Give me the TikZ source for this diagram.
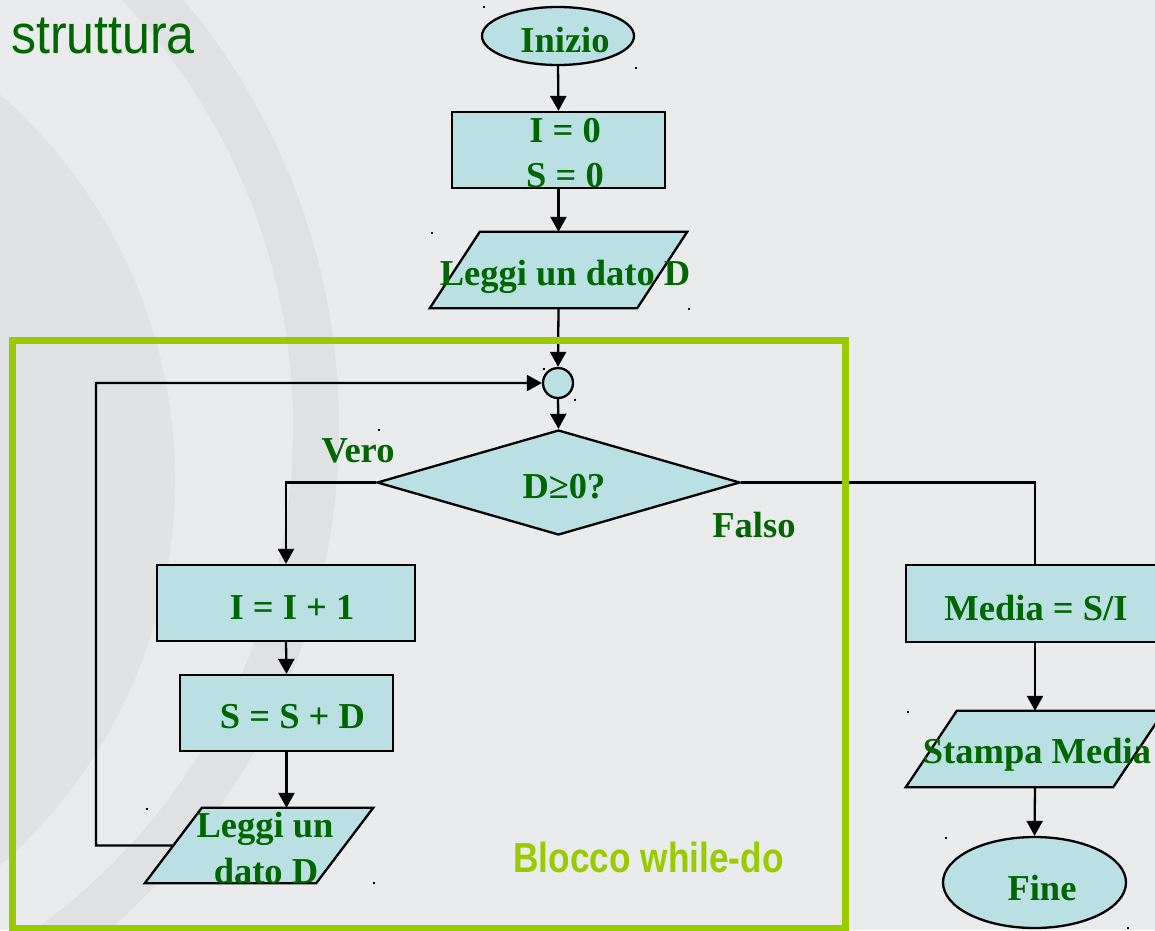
\documentclass[tikz,border=0pt]{standalone}
\usepackage{fontspec}
\usepackage{graphicx}
\setmainfont{Liberation Serif}
\newfontfamily\sansf{Liberation Sans}
\usetikzlibrary{arrows.meta,shapes.geometric,calc}
\definecolor{bgcol}{HTML}{EAEBED}
\definecolor{bandcol}{HTML}{E0E1E3}
\definecolor{disccol}{HTML}{E1E2E4}
\definecolor{boxfill}{HTML}{BAE0E3}
\definecolor{txtgreen}{HTML}{006600}
\definecolor{framegreen}{HTML}{99CC00}
\begin{document}
\begin{tikzpicture}[x=1pt,y=-1pt,
  shapebox/.style={draw=black, line width=2.3pt, fill=boxfill, inner sep=0pt},
  ghost/.style={draw=none, inner sep=0pt, rectangle},
  lbl/.style={anchor=base, text=txtgreen, font=\fontsize{36.5}{40}\selectfont\bfseries, inner sep=0pt},
  conn/.style={line width=2.3pt, draw=black},
  arr/.style={conn, -{Triangle[length=15pt,width=16pt]}}
]
\useasboundingbox (0,0) rectangle (1155,930);
\clip (0,0) rectangle (1155,930);
% background
\fill[bgcol] (0,0) rectangle (1155,930);
\fill[disccol] (-337,480) circle[radius=512pt];
\fill[bandcol, even odd rule] (-325,427) circle[radius=664pt] (-325,427) circle[radius=618pt];

% title
\node[anchor=base west, inner sep=0pt, text=txtgreen, font=\sansf\fontsize{55}{60}\selectfont] (title) at (11,53) {\scalebox{0.91}[1]{struttura}};

% shapes
\node[shapebox, ellipse, minimum width=152pt, minimum height=58pt] (inizio) at (558,36) {};
\node[shapebox, rectangle, minimum width=213pt, minimum height=76pt] (box0) at (558.5,150) {};
\node[ghost, minimum width=257pt, minimum height=76pt] (read0) at (558.5,270) {};
\draw[shapebox] (read0.south west) -- ([xshift=50pt]read0.north west) -- (read0.north east) -- ([xshift=-50pt]read0.south east) -- cycle;
\node[shapebox, circle, minimum size=30pt] (circ) at (558,383) {};
\node[shapebox, diamond, minimum width=363pt, minimum height=105pt] (dia) at (558.5,482.5) {};
\node[shapebox, rectangle, minimum width=258pt, minimum height=76pt] (i1) at (286,603) {};
\node[shapebox, rectangle, minimum width=213pt, minimum height=76pt] (s1) at (286.5,713) {};
\node[ghost, minimum width=228pt, minimum height=75pt] (read1) at (259,845.5) {};
\draw[shapebox] (read1.south west) -- ([xshift=57pt]read1.north west) -- (read1.north east) -- ([xshift=-57pt]read1.south east) -- cycle;
\node[shapebox, rectangle, minimum width=258pt, minimum height=77pt] (media) at (1035,603.5) {};
\node[ghost, minimum width=258pt, minimum height=76pt] (stampa) at (1035,749) {};
\draw[shapebox] (stampa.south west) -- ([xshift=51pt]stampa.north west) -- (stampa.north east) -- ([xshift=-51pt]stampa.south east) -- cycle;
\node[shapebox, ellipse, minimum width=183pt, minimum height=91pt] (fine) at (1034.5,882.5) {};

% texts
\node[lbl] (tinizio) at (565,52) {Inizio};
\node[lbl] (tbox0a) at (565,142) {I = 0};
\node[lbl] (tbox0b) at (565,187) {S = 0};
\node[lbl] (tread0) at (565,285) {Leggi un dato D};
\node[lbl] (tdia) at (564,498) {D≥0?};
\node[lbl] (tvero) at (358,462) {Vero};
\node[lbl] (tfalso) at (754,537) {Falso};
\node[lbl] (ti1) at (292,619) {I = I + 1};
\node[lbl] (ts1) at (292.5,728) {S = S + D};
\node[lbl] (tread1a) at (265,837) {Leggi un};
\node[lbl] (tread1b) at (266,883) {dato D};
\node[lbl] (tmedia) at (1036,620) {Media = S/I};
\node[lbl] (tstampa) at (1037,763) {Stampa Media};
\node[lbl] (tfine) at (1042,900) {Fine};
\node[anchor=base west, inner sep=0pt, text=framegreen, font=\sansf\bfseries\fontsize{42}{46}\selectfont] (tblocco) at (513,872) {\scalebox{0.84}[1]{Blocco while-do}};

% connectors
\draw[arr] (inizio.south) -- (box0.north);
\draw[arr] (box0.south) -- (read0.north);
\draw[arr] (read0.south) -- (circ.north);
\draw[arr] (circ.south) -- (dia.north);
\draw[arr] (dia.west) -| (i1.north);
\draw[arr] (i1.south) -- (s1.north);
\draw[arr] (s1.south) -- (s1.south |- read1.north);
\coordinate (loopcorner) at (96,845.5);
\draw[arr] ($(read1.south west)!0.5!([xshift=57pt]read1.north west)$) -- (loopcorner) |- (circ.west);
\draw[conn] (dia.east) -| (media.north);
\draw[arr] (media.south) -- (stampa.north);
\draw[arr] (stampa.south) -- (fine.north);

% green frame
\draw[framegreen, line width=7pt] (12,340) rectangle (845,928);

% small marks
\foreach \px/\py in {483/6, 635/67, 431/232, 688/308, 543/368, 574/399, 378/429, 146/808, 373/882, 907/711, 945/837, 1127/927, 740/535}
  \fill[black] (\px,\py) rectangle ++(2.2,2.2);
\end{tikzpicture}
\end{document}
